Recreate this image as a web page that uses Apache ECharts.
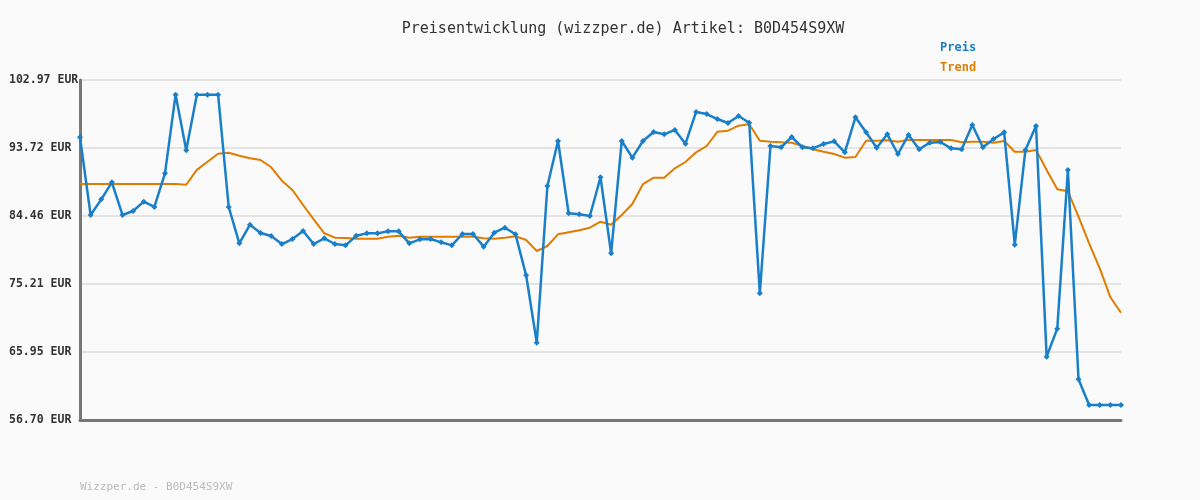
<!DOCTYPE html>
<html>
<head>
<meta charset="utf-8">
<script src="https://cdn.jsdelivr.net/npm/echarts@6/dist/echarts.min.js"></script>
<style>
html,body{margin:0;padding:0;background:#fafafa;}
#chart{width:1200px;height:500px;}
</style>
</head>
<body>
<div id="chart"></div>
<script>
const titleText = 'Preisentwicklung (wizzper.de) Artikel: B0D454S9XW';
const footerText = 'Wizzper.de - B0D454S9XW';
const seriesNames = ['Preis', 'Trend'];
const yTickValues = [56.70, 65.954, 75.208, 84.462, 93.716, 102.97];

const price = [95.17,84.60,86.73,89.05,84.60,85.14,86.41,85.69,90.27,100.97,
93.40,100.97,100.97,100.97,85.69,80.74,83.28,82.15,81.74,80.65,
81.33,82.42,80.65,81.42,80.65,80.47,81.78,82.10,82.10,82.38,
82.38,80.74,81.29,81.33,80.88,80.47,82.01,82.01,80.29,82.19,
82.87,81.97,76.39,67.22,88.54,94.67,84.83,84.70,84.46,89.73,
79.38,94.67,92.40,94.67,95.89,95.58,96.17,94.30,98.62,98.34,
97.66,97.12,98.07,97.16,73.94,93.99,93.81,95.21,93.81,93.67,
94.26,94.62,93.13,97.89,95.85,93.76,95.58,92.90,95.49,93.54,
94.44,94.53,93.67,93.54,96.85,93.81,94.94,95.85,80.56,93.44,
96.71,65.32,69.13,90.72,62.24,58.74,58.74,58.74,58.74];

const trend = [88.81,88.81,88.81,88.81,88.81,88.81,88.81,88.81,88.81,88.81,
88.72,90.74,91.85,92.94,93.08,92.67,92.31,92.08,91.09,89.27,
88.00,85.96,84.01,82.11,81.51,81.47,81.38,81.38,81.38,81.65,
81.78,81.51,81.65,81.65,81.65,81.65,81.65,81.65,81.42,81.38,
81.51,81.70,81.20,79.70,80.38,81.97,82.24,82.51,82.87,83.69,
83.28,84.60,86.10,88.81,89.67,89.67,90.95,91.81,93.13,93.99,
95.93,96.07,96.75,96.94,94.71,94.58,94.49,94.44,94.03,93.54,
93.21,92.90,92.40,92.49,94.71,94.71,94.76,94.58,94.80,94.80,
94.80,94.80,94.80,94.49,94.58,94.58,94.44,94.67,93.21,93.21,
93.44,90.72,88.10,87.82,84.37,80.75,77.34,73.40,71.30];

const categories = price.map((_, i) => String(i + 1));

const blue = '#1a7fc9';
const orange = '#e07c00';
const mono = 'DejaVu Sans Mono';

const chart = echarts.init(document.getElementById('chart'), null, {renderer: 'canvas'});
chart.setOption({
  backgroundColor: '#fafafa',
  animation: false,
  title: {
    text: titleText,
    left: 618, top: 17, textAlign: 'center',
    textStyle: {fontFamily: mono, fontSize: 15, fontWeight: 'normal', color: '#333'}
  },
  legend: {
    orient: 'vertical', left: 930, top: 37,
    icon: 'none', itemWidth: 0, itemHeight: 10, itemGap: 8,
    selectedMode: false,
    data: [
      {name: seriesNames[0], textStyle: {color: blue}},
      {name: seriesNames[1], textStyle: {color: orange}}
    ],
    textStyle: {fontFamily: mono, fontSize: 12, fontWeight: 'bold', padding: 0}
  },
  graphic: [{
    type: 'text', left: 80, top: 482,
    style: {text: footerText, fill: '#bbbbbb', font: '11px "DejaVu Sans Mono"'}
  }],
  grid: {left: 80, right: 79, top: 80, bottom: 80, containLabel: false},
  xAxis: {
    type: 'category', data: categories, boundaryGap: false,
    axisLine: {lineStyle: {color: '#777', width: 3}},
    axisTick: {show: false}, axisLabel: {show: false}, splitLine: {show: false}
  },
  yAxis: {
    type: 'value', min: 56.70, max: 102.97,
    axisLine: {show: true, lineStyle: {color: '#777', width: 3}},
    axisTick: {show: false, customValues: yTickValues},
    axisLabel: {
      customValues: yTickValues, align: 'left', margin: 71,
      fontFamily: mono, fontSize: 11.5, fontWeight: 'bold', color: '#333',
      formatter: v => v.toFixed(2) + ' EUR'
    },
    splitLine: {show: true, lineStyle: {color: '#e4e4e4', width: 2}}
  },
  series: [
    {
      name: seriesNames[0], type: 'line', data: price,
      symbol: 'diamond', symbolSize: 6, showSymbol: true,
      lineStyle: {color: blue, width: 2.5}, itemStyle: {color: blue},
      z: 3
    },
    {
      name: seriesNames[1], type: 'line', data: trend,
      symbol: 'none',
      lineStyle: {color: orange, width: 2}, itemStyle: {color: orange},
      z: 2
    }
  ]
});
</script>
</body>
</html>
